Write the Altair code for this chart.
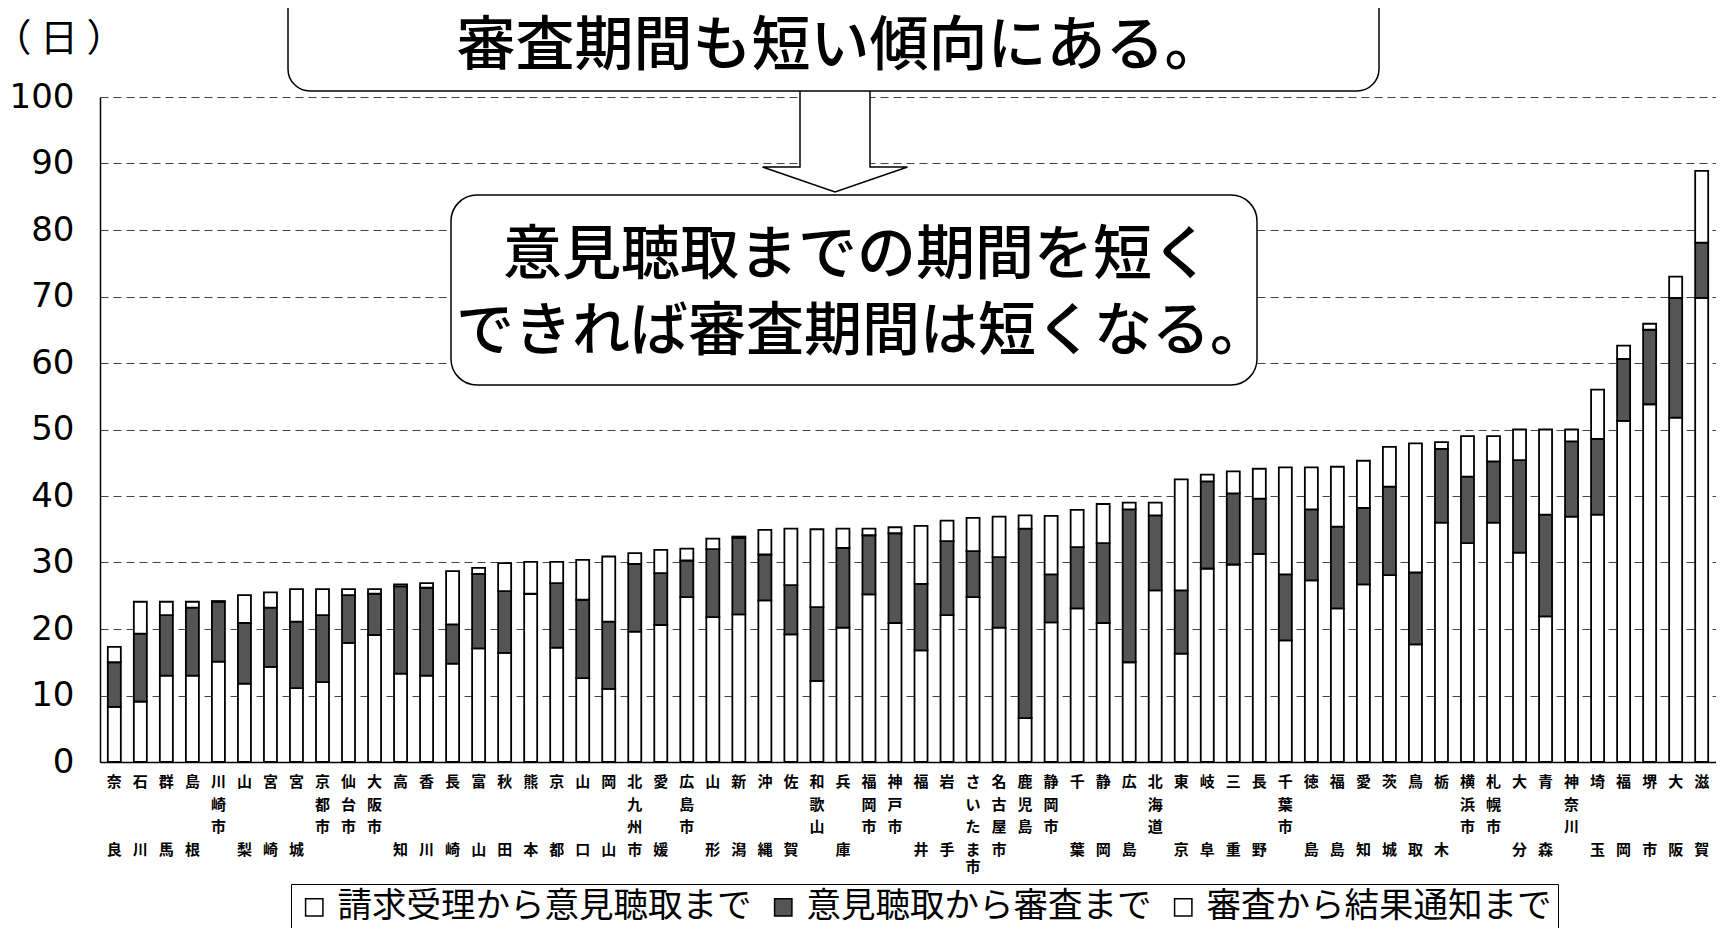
import altair as alt
import pandas as pd

# categories (prefectures / designated cities), in chart order
names = [
    "奈良", "石川", "群馬", "島根", "川崎市", "山梨", "宮崎", "宮城",
    "京都市", "仙台市", "大阪市", "高知", "香川", "長崎", "富山", "秋田",
    "熊本", "京都", "山口", "岡山", "北九州市", "愛媛", "広島市", "山形",
    "新潟", "沖縄", "佐賀", "和歌山", "兵庫", "福岡市", "神戸市", "福井",
    "岩手", "さいたま市", "名古屋市", "鹿児島", "静岡市", "千葉", "静岡", "広島",
    "北海道", "東京", "岐阜", "三重", "長野", "千葉市", "徳島", "福島",
    "愛知", "茨城", "鳥取", "栃木", "横浜市", "札幌市", "大分", "青森",
    "神奈川", "埼玉", "福岡", "堺市", "大阪", "滋賀",
]

# days: request received -> hearing
seg1 = [8.3, 9.1, 13.0, 13.0, 15.1, 11.8, 14.3, 11.1, 12.0, 17.9, 19.1, 13.3, 13.0, 14.8, 17.1, 16.4,
        25.3, 17.2, 12.6, 11.0, 19.6, 20.6, 24.8, 21.8, 22.2, 24.3, 19.2, 12.2, 20.2, 25.2, 20.9, 16.8,
        22.1, 24.8, 20.2, 6.6, 21.0, 23.1, 20.9, 15.0, 25.8, 16.3, 29.1, 29.7, 31.3, 18.3, 27.3, 23.1,
        26.7, 28.1, 17.7, 36.0, 32.9, 36.0, 31.5, 21.9, 36.9, 37.2, 51.3, 53.8, 51.8, 69.8]
# days: hearing -> review
seg2 = [6.7, 10.2, 9.1, 10.2, 9.0, 9.1, 8.9, 10.0, 10.1, 7.2, 6.2, 13.1, 13.2, 5.9, 11.2, 9.3,
        0.0, 9.7, 11.8, 10.1, 10.2, 7.8, 5.5, 10.2, 11.5, 6.9, 7.4, 11.1, 12.0, 8.9, 13.5, 10.0,
        11.1, 6.9, 10.6, 28.5, 7.2, 9.2, 12.0, 23.0, 11.3, 9.5, 13.1, 10.7, 8.3, 9.9, 10.7, 12.3,
        11.5, 13.3, 10.8, 11.1, 10.0, 9.2, 13.9, 15.3, 11.3, 11.4, 9.3, 11.2, 18.0, 8.3]
# days: review -> result notice
seg3 = [2.3, 4.8, 2.0, 0.9, 0.1, 4.2, 2.3, 4.9, 3.9, 0.9, 0.7, 0.3, 0.7, 8.0, 0.9, 4.2,
        4.8, 3.2, 6.0, 9.8, 1.6, 3.5, 1.8, 1.6, 0.2, 3.7, 8.5, 11.7, 2.9, 1.0, 0.9, 8.7,
        3.1, 5.0, 6.1, 2.0, 8.8, 5.6, 5.9, 1.0, 1.9, 16.7, 1.0, 3.3, 4.5, 16.1, 6.3, 9.0,
        7.1, 6.0, 19.4, 1.0, 6.1, 3.8, 4.6, 12.8, 1.8, 7.4, 2.0, 0.9, 3.2, 10.8]

series = ["請求受理から意見聴取まで", "意見聴取から審査まで", "審査から結果通知まで"]
series_colors = ["white", "#555555", "white"]

rows = []
for i, nm in enumerate(names):
    for k, arr in enumerate([seg1, seg2, seg3]):
        rows.append({"name": nm, "series": series[k], "idx": k, "days": arr[i]})
df = pd.DataFrame(rows)

# vertical category labels: one character per row; two-character names put the
# second character on the fourth row, as in the source
lab_rows = []
for nm in names:
    slots = [0, 3] if len(nm) == 2 else list(range(len(nm)))
    for ch, r in zip(nm, slots):
        lab_rows.append({"name": nm, "row": r, "ch": ch})
lab_df = pd.DataFrame(lab_rows)

JP = "Noto Sans CJK JP"
W, H = 1616, 665
ROW_Y = [685, 707.5, 730, 753, 770]

x_axis = alt.Axis(title=None, labels=False, ticks=False, grid=False,
                  domainColor="black", domainWidth=1.5)
x_scale = alt.Scale(paddingInner=0.5, paddingOuter=0.3)

bars = alt.Chart(df).mark_bar(stroke="black", strokeWidth=1.8, opacity=1, clip=True).encode(
    x=alt.X("name:N", sort=names, scale=x_scale, axis=x_axis),
    y=alt.Y("days:Q", stack="zero", scale=alt.Scale(domain=[0, 100], nice=False),
            axis=alt.Axis(title=None, values=list(range(0, 101, 10)),
                          labelFont="DejaVu Sans", labelFontSize=34, labelPadding=26,
                          labelColor="black", ticks=False, grid=True, gridColor="#444444",
                          gridDash=[8, 5], gridWidth=1, domainColor="black", domainWidth=1.5)),
    color=alt.Color("series:N", sort=series,
                    scale=alt.Scale(domain=series, range=series_colors),
                    legend=alt.Legend(title=None, orient="none", legendX=191, legendY=787,
                                      direction="horizontal", symbolType="square",
                                      symbolSize=300, symbolStrokeColor="black",
                                      symbolStrokeWidth=1.5, labelFont=JP, labelFontSize=34.5,
                                      labelColor="black", labelLimit=700, labelOffset=6,
                                      columnPadding=14, padding=6, strokeColor="black",
                                      fillColor="white")),
    order=alt.Order("idx:Q", sort="ascending"),
)

label_layers = [
    alt.Chart(lab_df).transform_filter(f"datum.row == {r}").mark_text(
        font=JP, fontSize=15, fontWeight="bold", align="center", baseline="middle",
        color="black").encode(
        x=alt.X("name:N", sort=names, scale=x_scale, axis=x_axis),
        y=alt.value(ROW_Y[r]),
        text="ch:N")
    for r in range(5)
]

one = pd.DataFrame({"k": [0]})
ARROW = "M -0.35 -0.525 L 0.35 -0.525 L 0.35 0.275 L 0.725 0.275 L 0 0.525 L -0.725 0.275 L -0.35 0.275 Z"

arrow = alt.Chart(one).mark_point(shape=ARROW, size=40000, filled=True, fill="white",
                                  stroke="black", strokeWidth=1.5, opacity=1).encode(
    x=alt.value(735), y=alt.value(42.5))

top_box = alt.Chart(one).mark_rect(cornerRadius=22, fill="white", stroke="black",
                                   strokeWidth=1.5).encode(
    x=alt.value(188), x2=alt.value(1279), y=alt.value(-130), y2=alt.value(-6))
top_text = alt.Chart(one).mark_text(text="審査期間も短い傾向にある。", font=JP, fontSize=59,
                                    fontWeight=500, align="center", baseline="middle",
                                    color="black").encode(
    x=alt.value(740), y=alt.value(-50))

mid_box = alt.Chart(one).mark_rect(cornerRadius=26, fill="white", stroke="black",
                                   strokeWidth=1.5).encode(
    x=alt.value(351), x2=alt.value(1157), y=alt.value(98), y2=alt.value(288))
mid_text1 = alt.Chart(one).mark_text(text="意見聴取までの期間を短く", font=JP, fontSize=59,
                                     fontWeight=500, align="center", baseline="middle",
                                     color="black").encode(
    x=alt.value(757), y=alt.value(159))
mid_text2 = alt.Chart(one).mark_text(text="できれば審査期間は短くなる。", font=JP, fontSize=58,
                                     fontWeight=500, align="center", baseline="middle",
                                     color="black").encode(
    x=alt.value(762), y=alt.value(236))

unit = alt.Chart(one).mark_text(text="（ 日 ）", font=JP, fontSize=38, align="center",
                                baseline="middle", color="black").encode(
    x=alt.value(-41), y=alt.value(-57))

chart = alt.layer(bars, *label_layers, arrow, top_box, top_text, mid_box, mid_text1,
                  mid_text2, unit).properties(
    width=W, height=H,
    autosize=alt.AutoSizeParams(type="none"),
    padding={"left": 92, "top": 89, "right": 0, "bottom": 166},
    background="white",
).configure_view(stroke=None)

chart.save("out.html", embed_options={"renderer": "svg", "actions": False})
